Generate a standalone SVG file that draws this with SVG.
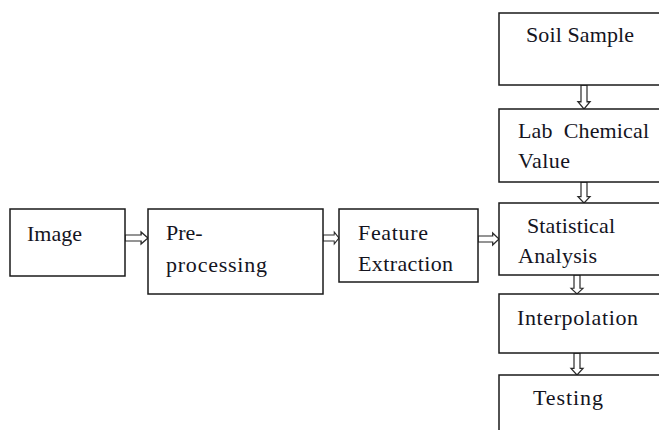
<svg xmlns="http://www.w3.org/2000/svg" width="659" height="430" viewBox="0 0 659 430">
  <style>
    .box { fill: #ffffff; stroke: #1a1a1a; stroke-width: 1.5; }
    .lbl { font-family: "Liberation Serif", "Times New Roman", serif; font-size: 22px; fill: #14141e; white-space: pre; }
    .arr { fill: #ffffff; stroke: #2a2a2a; stroke-width: 1.2; stroke-linejoin: miter; }
  </style>
  <defs>
    <!-- hollow double-line arrow, pointing right, length 20, centred on y=0 -->
    <path id="harrow" d="M0,-3 H14 V-6 L20,0 L14,6 V3 H0 Z"/>
  </defs>
  <rect width="659" height="430" fill="#ffffff"/>

  <g id="connectors">
    <use href="#harrow" class="arr" transform="translate(125,238) scale(1.15,1)"/>
    <use href="#harrow" class="arr" transform="translate(323,238) scale(0.8,1)"/>
    <use href="#harrow" class="arr" transform="translate(478,239) scale(1.05,1)"/>
    <use href="#harrow" class="arr" transform="translate(584,85) rotate(90) scale(1.2,1)"/>
    <use href="#harrow" class="arr" transform="translate(584,182) rotate(90) scale(1.05,1)"/>
    <use href="#harrow" class="arr" transform="translate(577,275) rotate(90) scale(0.95,1)"/>
    <use href="#harrow" class="arr" transform="translate(577,353) rotate(90) scale(1.1,1)"/>
  </g>

  <g id="image">
    <rect class="box" x="10" y="209" width="115" height="67"/>
    <text class="lbl" x="27" y="241" textLength="55">Image</text>
  </g>

  <g id="preprocessing">
    <rect class="box" x="148" y="209" width="175" height="85"/>
    <text class="lbl" x="166" y="240">Pre-</text>
    <text class="lbl" x="166" y="272" textLength="101">processing</text>
  </g>

  <g id="feature-extraction">
    <rect class="box" x="339" y="209" width="139" height="73"/>
    <text class="lbl" x="358" y="240" textLength="70">Feature</text>
    <text class="lbl" x="358" y="271" textLength="95">Extraction</text>
  </g>

  <g id="soil-sample">
    <rect class="box" x="499" y="13" width="170" height="72"/>
    <text class="lbl" x="526" y="42" textLength="108">Soil Sample</text>
  </g>

  <g id="lab-chemical-value">
    <rect class="box" x="499" y="109" width="170" height="73"/>
    <text class="lbl" x="518" y="138" textLength="131">Lab  Chemical</text>
    <text class="lbl" x="518" y="168" textLength="52">Value</text>
  </g>

  <g id="statistical-analysis">
    <rect class="box" x="499" y="203" width="170" height="72"/>
    <text class="lbl" x="527" y="233" textLength="88">Statistical</text>
    <text class="lbl" x="518" y="263" textLength="79">Analysis</text>
  </g>

  <g id="interpolation">
    <rect class="box" x="499" y="294" width="170" height="59"/>
    <text class="lbl" x="517" y="325" textLength="121">Interpolation</text>
  </g>

  <g id="testing">
    <rect class="box" x="499" y="375" width="170" height="70"/>
    <text class="lbl" x="533" y="405" textLength="70">Testing</text>
  </g>
</svg>
